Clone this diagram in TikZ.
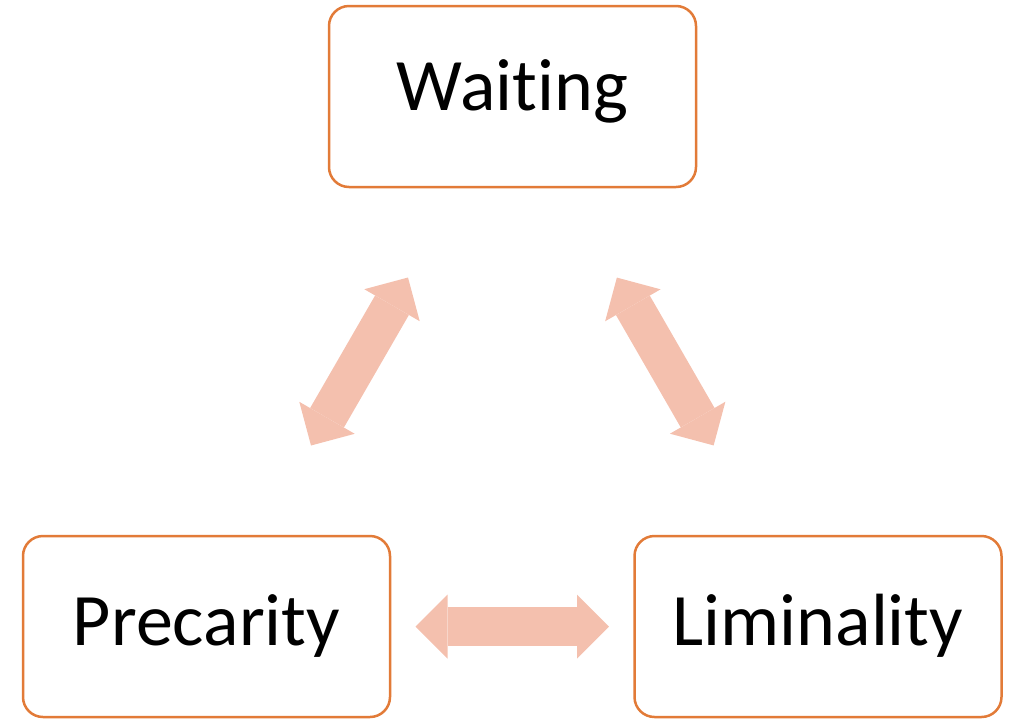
\documentclass[tikz,border=0pt]{standalone}
\usepackage{fontspec}
\setmainfont{Carlito}[Ligatures=NoCommon]
\usepackage{xcolor}
\usepackage{tikz}
\usetikzlibrary{arrows.meta}
\definecolor{boxline}{HTML}{E27B38}
\definecolor{arrowfill}{HTML}{F4C0AE}

\begin{document}
\begin{tikzpicture}[x=1pt, y=-1pt, thick,
    main/.style = {draw=boxline, line width=2.5pt, rounded corners=20pt,
        minimum width=367pt, minimum height=181pt,
        font=\fontsize{74}{88}\selectfont, text height=47pt, text depth=10pt},
    link/.style = {draw=arrowfill, line width=39pt,
        {Triangle[width=64pt,length=32pt,line width=0pt]}-{Triangle[width=64pt,length=32pt,line width=0pt]},
        shorten <=209pt, shorten >=209pt}]
    \useasboundingbox (0,0) rectangle (1009,721);
    \node[main, text depth=19pt] (1) at (512.5,96.5) {Waiting};
    \node[main] (2) at (206.5,626.5) {Precarity};
    \node[main] (3) at (818,626.5) {Liminality};
    \draw[link] (2.center) -- (1.center);
    \draw[link] (1.center) -- (3.center);
    \draw[link] (2.center) -- (3.center);
\end{tikzpicture}
\end{document}
